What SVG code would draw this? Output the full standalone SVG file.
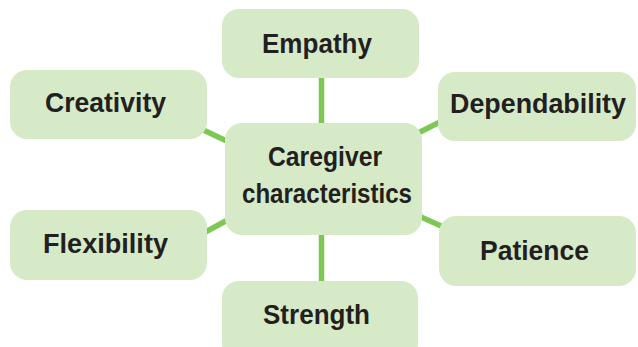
<svg xmlns="http://www.w3.org/2000/svg" width="638" height="347" viewBox="0 0 638 347">
<style>
.box{fill:#d7eac8;}
.lbl{font-family:"Liberation Sans",Arial,sans-serif;font-weight:bold;font-size:28.5px;fill:#231f20;text-anchor:middle;}
.con{stroke:#7dc855;stroke-width:5.5;fill:none;stroke-linecap:butt;}
</style>
<rect width="638" height="347" fill="#ffffff"/>
<g id="connectors">
<line class="con" x1="321.5" y1="70" x2="321.5" y2="130"/>
<line class="con" x1="321.5" y1="228" x2="321.5" y2="290"/>
<line class="con" x1="195" y1="126" x2="235" y2="145"/>
<line class="con" x1="410" y1="137" x2="450" y2="117"/>
<line class="con" x1="198" y1="236" x2="235" y2="216"/>
<line class="con" x1="412" y1="213" x2="450" y2="230"/>
</g>
<g id="empathy"><rect class="box" x="222" y="9" width="197" height="69" rx="17"/><text class="lbl" x="317" y="53" textLength="110" lengthAdjust="spacingAndGlyphs">Empathy</text></g>
<g id="creativity"><rect class="box" x="10" y="70" width="197" height="69" rx="17"/><text class="lbl" x="105.5" y="112" textLength="121" lengthAdjust="spacingAndGlyphs">Creativity</text></g>
<g id="dependability"><rect class="box" x="438" y="72" width="198" height="69" rx="17"/><text class="lbl" x="538" y="113" textLength="176" lengthAdjust="spacingAndGlyphs">Dependability</text></g>
<g id="center"><rect class="box" x="225" y="123" width="197" height="112" rx="17"/><text class="lbl" x="325" y="166" textLength="114" lengthAdjust="spacingAndGlyphs">Caregiver</text><text class="lbl" x="327" y="203" textLength="170" lengthAdjust="spacingAndGlyphs">characteristics</text></g>
<g id="flexibility"><rect class="box" x="10" y="210" width="197" height="70" rx="17"/><text class="lbl" x="105.5" y="253" textLength="125" lengthAdjust="spacingAndGlyphs">Flexibility</text></g>
<g id="patience"><rect class="box" x="439" y="216" width="197" height="70" rx="17"/><text class="lbl" x="534.5" y="260" textLength="109" lengthAdjust="spacingAndGlyphs">Patience</text></g>
<g id="strength"><rect class="box" x="222" y="281" width="196" height="80" rx="17"/><text class="lbl" x="316.5" y="324" textLength="107" lengthAdjust="spacingAndGlyphs">Strength</text></g>
</svg>
